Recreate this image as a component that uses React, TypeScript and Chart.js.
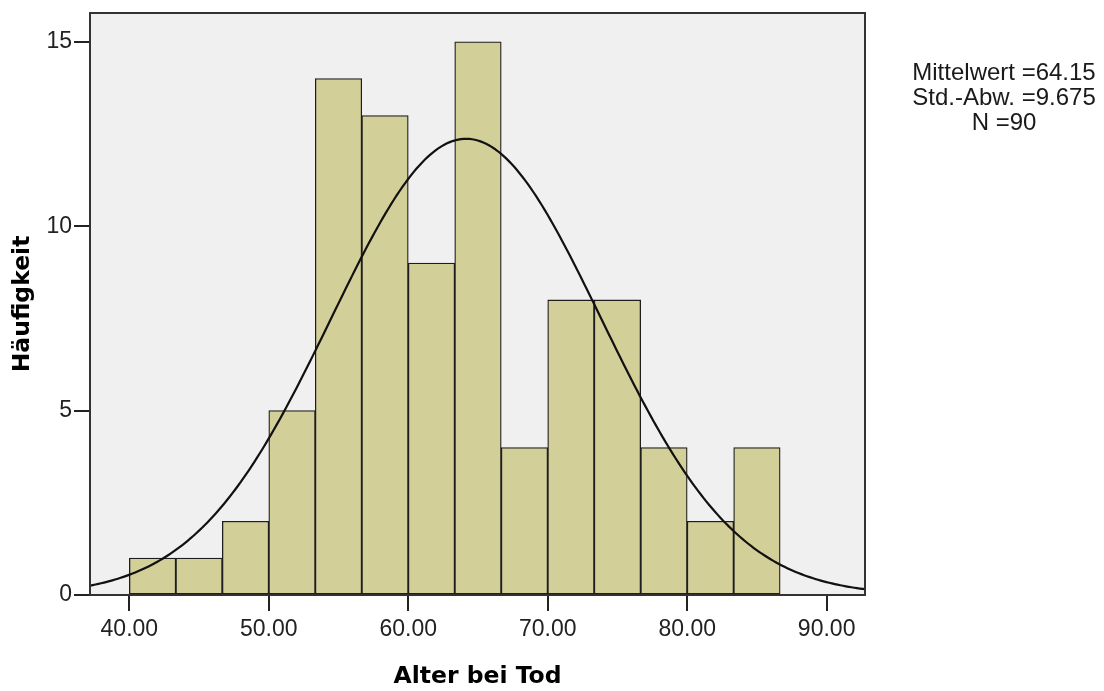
import React, { useEffect, useRef } from 'react';
import { Chart, registerables } from 'chart.js';

Chart.register(...registerables);

// ---- data ----
const BIN_EDGES = [40, 43.333, 46.667, 50, 53.333, 56.667, 60, 63.333, 66.667, 70, 73.333, 76.667, 80, 83.333, 86.667];
const COUNTS = [1, 1, 2, 5, 14, 13, 9, 15, 4, 8, 8, 4, 2, 4];
const X_TICKS = [40, 50, 60, 70, 80, 90];
const Y_TICKS = [0, 5, 10, 15];
const MEAN = 64.15;
const SD = 9.675;
const N = 90;
const STATS_LINES = ['Mittelwert =64.15', 'Std.-Abw. =9.675', 'N =90'];
const X_TITLE = 'Alter bei Tod';
const Y_TITLE = 'Häufigkeit';
const X_MIN = 37.18;
const X_MAX = 92.75;
const Y_MAX = 15.78;

const BIN_WIDTH = BIN_EDGES[1] - BIN_EDGES[0];

const barData = COUNTS.map((c, i) => ({ x: BIN_EDGES[i] + BIN_WIDTH / 2, y: c }));

// fitted normal curve (from the stated mean, sd and N)
const curveData: { x: number; y: number }[] = [];
for (let x = X_MIN - 1; x <= X_MAX + 1; x += 0.2) {
  const z = (x - MEAN) / SD;
  const y = (N * BIN_WIDTH) / (SD * Math.sqrt(2 * Math.PI)) * Math.exp(-0.5 * z * z);
  curveData.push({ x, y });
}

const TICK_FONT = { family: '"Liberation Sans", Arial, sans-serif', size: 23 };
const TITLE_FONT = { family: '"DejaVu Sans", Verdana, sans-serif', size: 23.5, weight: 'bold' as const };

const framePlugin = {
  id: 'frame',
  beforeDraw(chart: any) {
    const { ctx, chartArea } = chart;
    const { left, top, width, height } = chartArea;
    ctx.save();
    ctx.fillStyle = '#f0f0f0';
    ctx.fillRect(left, top, width, height);
    ctx.restore();
  },
  afterDraw(chart: any) {
    const { ctx, chartArea } = chart;
    const { left, top, width, height } = chartArea;
    ctx.save();
    ctx.strokeStyle = '#333333';
    ctx.lineWidth = 2;
    ctx.strokeRect(left, top, width, height);
    ctx.fillStyle = '#1a1a1a';
    ctx.font = '24px "Liberation Sans", Arial, sans-serif';
    ctx.textAlign = 'center';
    ctx.textBaseline = 'alphabetic';
    STATS_LINES.forEach((line, i) => {
      ctx.fillText(line, 1004, 80 + i * 25);
    });
    ctx.restore();
  },
};

export default function App() {
  const canvasRef = useRef<HTMLCanvasElement | null>(null);

  useEffect(() => {
    if (!canvasRef.current) return;
    const chart = new Chart(canvasRef.current, {
      type: 'bar',
      data: {
        datasets: [
          {
            type: 'line',
            data: curveData,
            borderColor: '#111111',
            borderWidth: 2.2,
            pointRadius: 0,
            fill: false,
            tension: 0,
            order: 0,
          } as any,
          {
            type: 'bar',
            data: barData,
            backgroundColor: '#d3cf98',
            borderColor: '#1e1e1e',
            borderWidth: 1.3,
            borderSkipped: false,
            barPercentage: 1,
            categoryPercentage: 1,
            order: 1,
          } as any,
        ],
      },
      options: {
        animation: false,
        responsive: true,
        maintainAspectRatio: false,
        layout: { padding: { left: 0, right: 239, top: 13, bottom: 0 } },
        plugins: { legend: { display: false }, tooltip: { enabled: false } },
        scales: {
          x: {
            type: 'linear',
            min: X_MIN,
            max: X_MAX,
            offset: false,
            afterBuildTicks: (s: any) => {
              s.ticks = X_TICKS.map((v) => ({ value: v }));
            },
            afterFit: (s: any) => {
              s.height = 96;
              s.paddingLeft = 0;
              s.paddingRight = 0;
            },
            grid: { display: true, offset: false, drawOnChartArea: false, drawTicks: true, tickLength: 16, color: '#222', lineWidth: 2 },
            border: { display: false },
            ticks: {
              font: TICK_FONT,
              color: '#222',
              padding: 5,
              autoSkip: false,
              maxRotation: 0,
              callback: (v: any) => Number(v).toFixed(2),
            },
            title: { display: true, text: X_TITLE, font: TITLE_FONT, color: '#000', padding: { top: 0, bottom: 0 } },
          },
          y: {
            type: 'linear',
            min: 0,
            max: Y_MAX,
            afterBuildTicks: (s: any) => {
              s.ticks = Y_TICKS.map((v) => ({ value: v }));
            },
            afterFit: (s: any) => {
              s.width = 90;
              s.paddingTop = 0;
              s.paddingBottom = 0;
            },
            grid: { display: true, offset: false, drawOnChartArea: false, drawTicks: true, tickLength: 16, color: '#222', lineWidth: 2 },
            border: { display: false },
            ticks: { font: TICK_FONT, color: '#222', padding: 2 },
            title: { display: true, text: Y_TITLE, font: TITLE_FONT, color: '#000', padding: { top: 9, bottom: 0 } },
          },
        },
      } as any,
      plugins: [framePlugin],
    });
    return () => chart.destroy();
  }, []);

  return (
    <div style={{ position: 'absolute', left: 0, top: 0, width: '1104px', height: '691px', background: '#fff' }}>
      <canvas ref={canvasRef} />
    </div>
  );
}
